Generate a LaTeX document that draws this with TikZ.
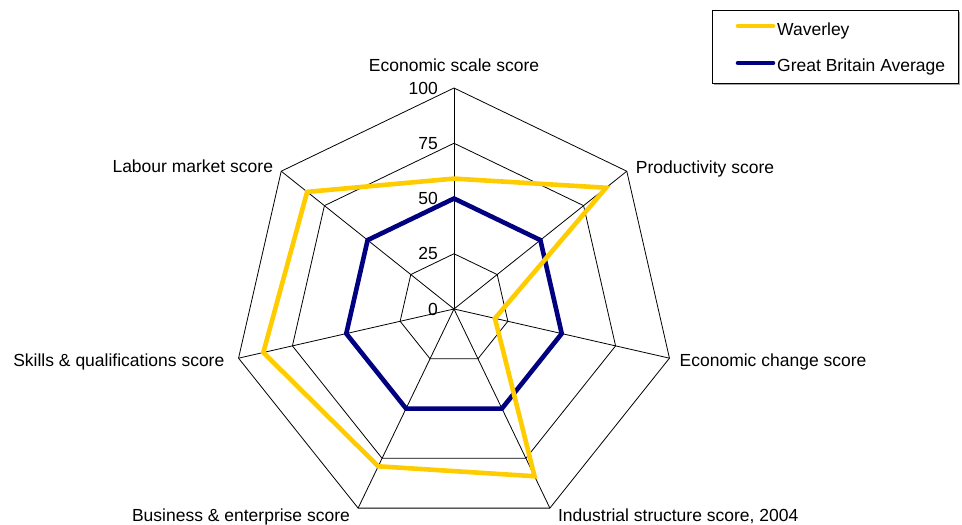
\documentclass[tikz,border=0pt]{standalone}
\usepackage{fontspec}
\setmainfont{Liberation Sans}
\usetikzlibrary{calc}
\definecolor{wavcol}{RGB}{255,204,0}
\definecolor{gbcol}{RGB}{0,0,128}
\begin{document}
\begin{tikzpicture}[x=1pt,y=1pt,
  font=\fontsize{17.5}{21}\selectfont,
  gridline/.style={draw=black, line width=0.8pt},
  wavline/.style={draw=wavcol, line width=4.6pt, line join=miter},
  gbline/.style={draw=gbcol, line width=4.6pt, line join=miter},
  axlabel/.style={inner sep=0pt},
  scalelabel/.style={inner sep=0pt, anchor=east}]
\useasboundingbox (0,0) rectangle (962,525);
\coordinate (O) at (454,216);
% vertices
\foreach \k in {0,...,6}
  \path[shift={(O)}] ({90-\k*360/7}:221) coordinate (v\k);
% rings
\foreach \r in {55.25,110.5,165.75,221}
  \draw[gridline, shift={(O)}] (90:\r)
    \foreach \k in {1,...,6} { -- ({90-\k*360/7}:\r) } -- cycle;
% spokes
\foreach \k in {0,...,6}
  \draw[gridline] (O) -- (v\k);
% scale labels
\foreach \v/\r in {0/0,25/55.25,50/110.5,75/165.75,100/221}
  \node[scalelabel] (s\v) at ($(O)+(-16,\r)$) {\v};
% GB average
\draw[gbline, shift={(O)}] (90:110.5)
  \foreach \k in {1,...,6} { -- ({90-\k*360/7}:110.5) } -- cycle;
% Waverley
\draw[wavline, shift={(O)}]
  (90:{59*2.21}) -- ({90-360/7}:{88*2.21}) -- ({90-2*360/7}:{19*2.21})
  -- ({90-3*360/7}:{84*2.21}) -- ({90-4*360/7}:{79*2.21})
  -- ({90-5*360/7}:{88.5*2.21}) -- ({90-6*360/7}:{85*2.21}) -- cycle;
% axis labels
\node[axlabel, anchor=base] (l0) at ($(v0)+(0,16)$) {Economic scale score};
\node[axlabel, anchor=base west] (l1) at ($(v1)+(9,-2)$) {Productivity score};
\node[axlabel, anchor=base west] (l2) at ($(v2)+(10,-8.5)$) {Economic change score};
\node[axlabel, anchor=base west] (l3) at ($(v3)+(8,-13.6)$) {Industrial structure score, 2004};
\node[axlabel, anchor=base east] (l4) at ($(v4)+(-8,-13.6)$) {Business \& enterprise score};
\node[axlabel, anchor=base east] (l5) at ($(v5)+(-14,-8.5)$) {Skills \& qualifications score};
\node[axlabel, anchor=base east] (l6) at ($(v6)+(-8,-1)$) {Labour market score};
% legend
\draw[gray!70, line width=1.5pt] (714,440.5) -- (959.5,440.5) -- (959.5,513);
\draw[black, line width=0.8pt] (712,515) rectangle (958,442);
\coordinate (wa) at (738,499);
\coordinate (wb) at (773,499);
\coordinate (ga) at (738,462);
\coordinate (gb) at (773,462);
\draw[wavline, line cap=round] (wa) -- (wb);
\draw[gbline, line cap=round] (ga) -- (gb);
\node[axlabel, anchor=base west] (lw) at (777,489) {Waverley};
\node[axlabel, anchor=base west] (lg) at (777,453) {Great Britain Average};
\end{tikzpicture}
\end{document}
